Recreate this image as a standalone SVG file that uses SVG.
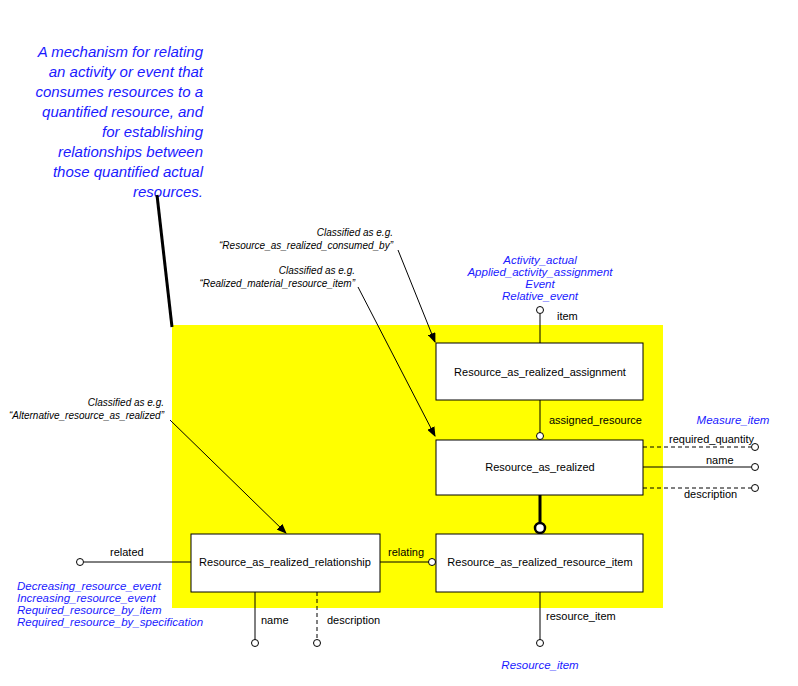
<svg xmlns="http://www.w3.org/2000/svg" width="798" height="686" viewBox="0 0 798 686">
<style>
.box{fill:#fff;stroke:#000;stroke-width:1}
.t{font-family:"Liberation Sans",Arial,sans-serif;font-size:11px;fill:#000}
.i{font-family:"Liberation Sans",Arial,sans-serif;font-size:10px;font-style:italic;fill:#000}
.b{font-family:"Liberation Sans",Arial,sans-serif;font-size:11.5px;font-style:italic;fill:#1a1aff}
.n{font-family:"Liberation Sans",Arial,sans-serif;font-size:15px;font-style:italic;fill:#1a1aff}
.l{stroke:#000;stroke-width:1;fill:none}
.d{stroke:#000;stroke-width:1;fill:none;stroke-dasharray:4,3}
.c{fill:#fff;stroke:#000;stroke-width:1}
</style>
<defs><marker id="a" markerWidth="10" markerHeight="8" refX="9" refY="4" orient="auto" markerUnits="userSpaceOnUse"><path d="M0,0L10,4L0,8z" fill="#000"/></marker></defs>
<rect x="172" y="325" width="491" height="283" fill="#ffff00"/>
<g text-anchor="end" class="n">
<text x="203" y="57" class="n">A mechanism for relating</text>
<text x="203" y="77" class="n">an activity or event that</text>
<text x="203" y="97" class="n">consumes resources to a</text>
<text x="203" y="117" class="n">quantified resource, and</text>
<text x="203" y="137" class="n">for establishing</text>
<text x="203" y="157" class="n">relationships between</text>
<text x="203" y="177" class="n">those quantified  actual</text>
<text x="203" y="197" class="n">resources.</text>
</g>
<g id="connectors">
<line x1="157" y1="195" x2="172" y2="327" stroke="#000" stroke-width="3"/>
<line class="l" x1="398" y1="250" x2="435" y2="342" marker-end="url(#a)"/>
<line class="l" x1="358" y1="287" x2="435" y2="436" marker-end="url(#a)"/>
<line class="l" x1="170" y1="420" x2="286" y2="533" marker-end="url(#a)"/>
<line class="l" x1="540" y1="314" x2="540" y2="343"/><circle class="c" cx="540" cy="310" r="3.5"/>
<line class="l" x1="540" y1="400" x2="540" y2="433"/><circle class="c" cx="540" cy="436" r="3.5"/>
<line class="d" x1="643" y1="447" x2="751" y2="447"/><circle class="c" cx="755" cy="447" r="3.5"/>
<line class="l" x1="643" y1="467" x2="751" y2="467"/><circle class="c" cx="755" cy="467" r="3.5"/>
<line class="d" x1="643" y1="488" x2="751" y2="488"/><circle class="c" cx="755" cy="488" r="3.5"/>
<line x1="540" y1="495" x2="540" y2="523" stroke="#000" stroke-width="3"/><circle cx="540" cy="528" r="5" fill="#fff" stroke="#000" stroke-width="2.5"/>
<line class="l" x1="380" y1="562" x2="429" y2="562"/><circle class="c" cx="432" cy="562" r="3.5"/>
<line class="l" x1="84" y1="562" x2="191" y2="562"/><circle class="c" cx="80" cy="562" r="3.5"/>
<line class="l" x1="255" y1="592" x2="255" y2="640"/><circle class="c" cx="255" cy="643" r="3.5"/>
<line class="d" x1="317" y1="592" x2="317" y2="640"/><circle class="c" cx="317" cy="643" r="3.5"/>
<line class="l" x1="540" y1="592" x2="540" y2="640"/><circle class="c" cx="540" cy="643" r="3.5"/>
</g>
<g id="assignment"><rect class="box" x="436" y="343" width="207" height="57"/><text class="t" x="540" y="376" text-anchor="middle">Resource_as_realized_assignment</text></g>
<g id="realized"><rect class="box" x="436" y="440" width="207" height="55"/><text class="t" x="540" y="471" text-anchor="middle">Resource_as_realized</text></g>
<g id="resitem"><rect class="box" x="436" y="534" width="207" height="58"/><text class="t" x="540" y="566" text-anchor="middle">Resource_as_realized_resource_item</text></g>
<g id="relationship"><rect class="box" x="191" y="534" width="189" height="58"/><text class="t" x="285" y="566" text-anchor="middle">Resource_as_realized_relationship</text></g>
<g id="labels">
<text class="t" x="557" y="320">item</text>
<text class="t" x="549" y="424">assigned_resource</text>
<text class="t" x="669" y="443">required_quantity</text>
<text class="t" x="706" y="464">name</text>
<text class="t" x="684" y="498">description</text>
<text class="t" x="388" y="556">relating</text>
<text class="t" x="110" y="556">related</text>
<text class="t" x="261" y="624">name</text>
<text class="t" x="327" y="624">description</text>
<text class="t" x="546" y="620">resource_item</text>
<g text-anchor="end">
<text class="i" x="393" y="236">Classified as e.g.</text>
<text class="i" x="393" y="249">“Resource_as_realized_consumed_by”</text>
<text class="i" x="355" y="274">Classified as e.g.</text>
<text class="i" x="355" y="287">“Realized_material_resource_item”</text>
<text class="i" x="164" y="406">Classified as e.g.</text>
<text class="i" x="164" y="419">“Alternative_resource_as_realized”</text>
</g>
<g text-anchor="middle">
<text class="b" x="540" y="264">Activity_actual</text>
<text class="b" x="540" y="276">Applied_activity_assignment</text>
<text class="b" x="540" y="288">Event</text>
<text class="b" x="540" y="300">Relative_event</text>
<text class="b" x="733" y="424">Measure_item</text>
<text class="b" x="540" y="669">Resource_item</text>
</g>
<text class="b" x="17" y="590">Decreasing_resource_event</text>
<text class="b" x="17" y="602">Increasing_resource_event</text>
<text class="b" x="17" y="614">Required_resource_by_item</text>
<text class="b" x="17" y="626">Required_resource_by_specification</text>
</g>
</svg>
